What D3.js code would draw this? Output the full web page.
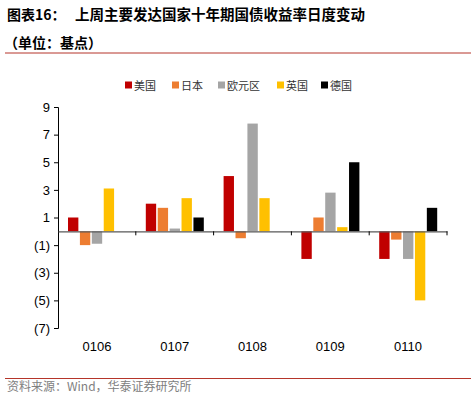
<!DOCTYPE html>
<html>
<head>
<meta charset="utf-8">
<script src="https://cdn.jsdelivr.net/npm/d3@7"></script>
<style>
body { margin: 0; background: #fff; }
</style>
</head>
<body>
<div id="chart"></div>
<script>
// data
var dates = ["0106", "0107", "0108", "0109", "0110"];
var countries = ["美国", "日本", "欧元区", "英国", "德国"];
var us = [1.0, 2.0, 4.0, -2.0, -2.0];
var jp = [-1.0, 1.7, -0.5, 1.0, -0.6];
var eu = [-0.9, 0.2, 7.8, 2.8, -2.0];
var uk = [3.1, 2.4, 2.4, 0.3, -5.0];
var de = [0, 1.0, 0, 5.0, 1.7];
var yTicks = [9, 7, 5, 3, 1, -1, -3, -5, -7];
var colors = ["#C00000", "#ED7D31", "#A5A5A5", "#FFC000", "#000000"];

var seriesVals = [us, jp, eu, uk, de];

var W = 475, H = 395;
var margin = {top: 107, right: 28, bottom: 67, left: 58},
  width = W - margin.left - margin.right,
  height = H - margin.top - margin.bottom;

var svg = d3.select("#chart").append("svg")
  .attr("width", W).attr("height", H);

var cjk = "'Noto Sans CJK SC', sans-serif";

// title
svg.append("text").attr("x", 7).attr("y", 20)
  .style("font-family", cjk).style("font-weight", "bold").style("font-size", "14px")
  .text("图表16：");
svg.append("text").attr("x", 75).attr("y", 20)
  .style("font-family", cjk).style("font-weight", "bold").style("font-size", "14.5px")
  .text("上周主要发达国家十年期国债收益率日度变动");
svg.append("text").attr("x", 4).attr("y", 48)
  .style("font-family", cjk).style("font-weight", "bold").style("font-size", "14px")
  .text("（单位：基点）");

// divider lines
svg.append("line").attr("x1", 5).attr("x2", 471).attr("y1", 53).attr("y2", 53)
  .attr("stroke", "#B5352A").attr("stroke-width", 1);
svg.append("line").attr("x1", 5).attr("x2", 471).attr("y1", 378.5).attr("y2", 378.5)
  .attr("stroke", "#B5352A").attr("stroke-width", 1);

// footer
svg.append("text").attr("x", 7).attr("y", 391)
  .style("font-family", cjk).style("font-size", "12px").attr("fill", "#808080")
  .text("资料来源：Wind，华泰证券研究所");

// legend
var legendX = [125, 172, 218, 277, 321];
var legend = svg.append("g");
countries.forEach(function(c, i) {
  legend.append("rect").attr("x", legendX[i]).attr("y", 81.5)
    .attr("width", 7).attr("height", 7).attr("fill", colors[i]);
  legend.append("text").attr("x", legendX[i] + 9).attr("y", 89.5)
    .style("font-family", cjk).style("font-size", "11px").attr("fill", "#333")
    .text(c);
});

var g = svg.append("g")
  .attr("transform", "translate(" + margin.left + "," + margin.top + ")");

// scales
var x0 = d3.scaleBand().domain(dates).range([0, width]).paddingInner(0).paddingOuter(0);
var x1 = d3.scaleBand().domain(countries).range([10, 68]).paddingInner(0.13).paddingOuter(0);
var y = d3.scaleLinear().domain([-7, 9]).range([height, 0]);

// y axis
var yAxis = g.append("g")
  .call(d3.axisLeft(y).tickValues(yTicks).tickSize(4).tickPadding(4)
    .tickFormat(function(d) { return d < 0 ? "(" + Math.abs(d) + ")" : d; }));
yAxis.select(".domain").attr("stroke", "#000");
yAxis.selectAll(".tick line").attr("stroke", "#000");
yAxis.selectAll("text").style("font-family", "'Liberation Sans', Arial, sans-serif")
  .style("font-size", "13px").attr("fill", "#000");

// bars
var rows = [];
dates.forEach(function(d, i) {
  countries.forEach(function(c, j) {
    rows.push({date: d, country: c, value: seriesVals[j][i], color: colors[j]});
  });
});

g.selectAll(".bar")
  .data(rows)
  .enter().append("rect")
  .attr("class", "bar")
  .attr("x", function(d) { return x0(d.date) + x1(d.country); })
  .attr("width", x1.bandwidth())
  .attr("y", function(d) { return y(Math.max(0, d.value)); })
  .attr("height", function(d) { return Math.abs(y(d.value) - y(0)); })
  .attr("fill", function(d) { return d.color; });

// zero axis with category ticks
var xAxis = g.append("g")
  .attr("transform", "translate(0," + y(0) + ")")
  .call(d3.axisBottom(x0).tickSize(0).tickFormat(""));
xAxis.select(".domain").attr("stroke", "#595959").attr("stroke-width", 1.3);
xAxis.selectAll(".tick").remove();
x0.domain().forEach(function(d, i) {
  xAxis.append("line").attr("x1", x0(d) + x0.bandwidth()).attr("x2", x0(d) + x0.bandwidth())
    .attr("y1", 0).attr("y2", 4).attr("stroke", "#000");
});

// category labels
g.selectAll(".xlabel")
  .data(dates)
  .enter().append("text")
  .attr("x", function(d) { return x0(d) + x0.bandwidth() / 2; })
  .attr("y", height + 23)
  .attr("text-anchor", "middle")
  .style("font-family", "'Liberation Sans', Arial, sans-serif")
  .style("font-size", "13px")
  .text(function(d) { return d; });
</script>
</body>
</html>
